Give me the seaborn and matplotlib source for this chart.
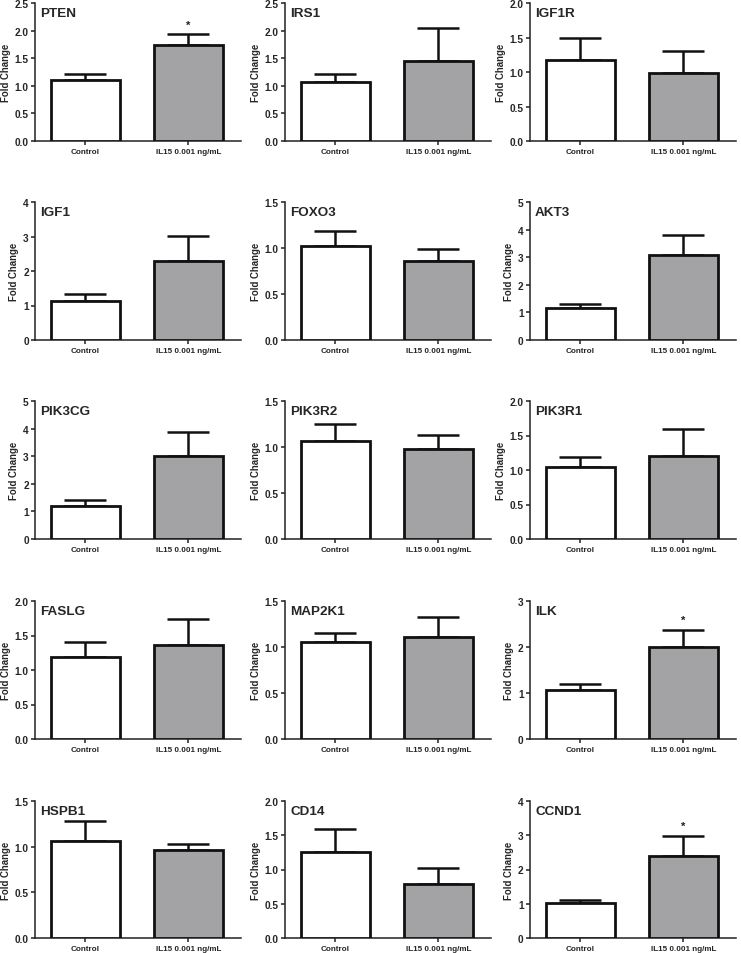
import numpy as np
import pandas as pd
import matplotlib
matplotlib.use("Agg")
import matplotlib.pyplot as plt
import seaborn as sns

genes = ["PTEN", "IRS1", "IGF1R",
         "IGF1", "FOXO3", "AKT3",
         "PIK3CG", "PIK3R2", "PIK3R1",
         "FASLG", "MAP2K1", "ILK",
         "HSPB1", "CD14", "CCND1"]
groups = ["Control", "IL15 0.001 ng/mL"]

control_mean = [1.11, 1.07, 1.17, 1.14, 1.025, 1.165, 1.19, 1.07, 1.04, 1.185, 1.05, 1.06, 1.06, 1.255, 1.02]
control_sem = [0.10, 0.14, 0.33, 0.18, 0.16, 0.155, 0.22, 0.18, 0.15, 0.215, 0.10, 0.13, 0.22, 0.335, 0.10]
il15_mean = [1.745, 1.455, 0.99, 2.29, 0.86, 3.08, 2.99, 0.98, 1.21, 1.36, 1.11, 2.0, 0.965, 0.79, 2.39]
il15_sem = [0.185, 0.595, 0.31, 0.72, 0.13, 0.73, 0.89, 0.15, 0.38, 0.385, 0.22, 0.38, 0.065, 0.23, 0.59]
y_max = [2.5, 2.5, 2.0, 4, 1.5, 5, 5, 1.5, 2.0, 2.0, 1.5, 3, 1.5, 2.0, 4]
y_step = [0.5, 0.5, 0.5, 1, 0.5, 1, 1, 0.5, 0.5, 0.5, 0.5, 1, 0.5, 0.5, 1]
significant = [True, False, False, False, False, False, False, False, False, False, False, True, False, False, True]

sns.set_style("ticks")
plt.rcParams["font.family"] = ["Liberation Sans", "DejaVu Sans"]
plt.rcParams["font.weight"] = "bold"

W, H = 741, 954
fig = plt.figure(figsize=(W / 100, H / 100), dpi=100)

col_left = [35, 285, 530]
ax_width = 206
row_top = [4, 203, 402, 602, 802]
row_bottom = [142, 341, 540, 740, 939]

bar_colors = ["#FFFFFF", "#A3A3A7"]
edge = "#111111"

for i, gene in enumerate(genes):
    r, c = divmod(i, 3)
    ax = fig.add_axes([col_left[c] / W, 1 - row_bottom[r] / H,
                       ax_width / W, (row_bottom[r] - row_top[r]) / H])
    df = pd.DataFrame({"group": groups,
                       "value": [control_mean[i], il15_mean[i]]})
    sns.barplot(data=df, x="group", y="value", hue="group", palette=bar_colors,
                legend=False, width=0.67, edgecolor=edge, linewidth=2.0, ax=ax,
                zorder=3)
    means = [control_mean[i], il15_mean[i]]
    sems = [control_sem[i], il15_sem[i]]
    ax.errorbar([0, 1], means, yerr=[[0, 0], sems], fmt="none", ecolor=edge,
                elinewidth=1.8, capsize=15, capthick=1.8, zorder=2)
    if significant[i]:
        ax.text(1, il15_mean[i] + il15_sem[i] + 0.035 * y_max[i], "*",
                ha="center", va="bottom", fontsize=8, color="#222222")

    ax.set_xlim(-0.49, 1.51)
    ax.set_ylim(0, y_max[i])
    ticks = np.arange(0, y_max[i] + 1e-9, y_step[i])
    ax.set_yticks(ticks)
    if y_step[i] < 1:
        ax.set_yticklabels([f"{t:.1f}" for t in ticks])
    else:
        ax.set_yticklabels([f"{int(t)}" for t in ticks])
    ax.set_xlabel("")
    ax.set_ylabel("Fold Change", fontsize=6.9, fontweight="bold", labelpad=3)
    ax.tick_params(axis="y", labelsize=7.3, width=1.1, length=3, pad=1.5, color="#222222")
    ax.tick_params(axis="x", labelsize=5.9, width=1.1, length=3, pad=2, color="#222222")
    for lab in ax.get_xticklabels() + ax.get_yticklabels():
        lab.set_fontweight("bold")
    sns.despine(ax=ax)
    for s in ["left", "bottom"]:
        ax.spines[s].set_linewidth(1.1)
        ax.spines[s].set_color("#222222")
    ax.text(0.025, 0.97, gene, transform=ax.transAxes, ha="left", va="top",
            fontsize=9.7, fontweight="bold")

fig.savefig("out.png", dpi=100)
